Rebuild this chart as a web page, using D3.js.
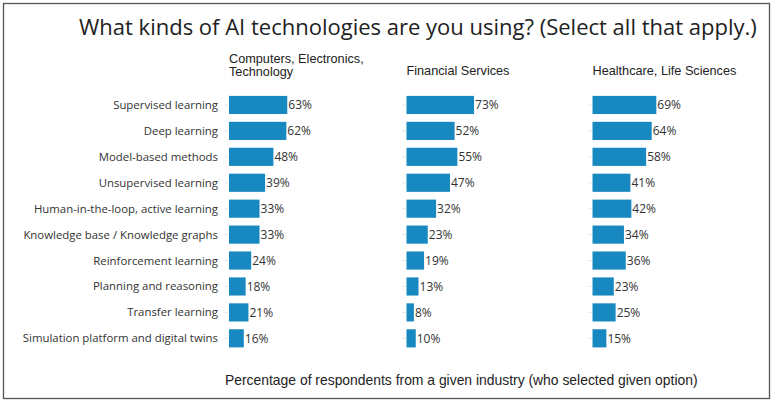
<!DOCTYPE html>
<html>
<head>
<meta charset="utf-8">
<script src="https://cdn.jsdelivr.net/npm/d3@7"></script>
<style>
  html, body { margin: 0; padding: 0; background: #fff; }
  svg { display: block; }
</style>
</head>
<body>
<svg id="chart" width="773" height="403"></svg>
<script>
// Survey answers: share of respondents per industry using each AI technology
const technologies = [
  "Supervised learning",
  "Deep learning",
  "Model-based methods",
  "Unsupervised learning",
  "Human-in-the-loop, active learning",
  "Knowledge base / Knowledge graphs",
  "Reinforcement learning",
  "Planning and reasoning",
  "Transfer learning",
  "Simulation platform and digital twins"
];
const industries = [
  ["Computers, Electronics,", "Technology"],
  ["Financial Services"],
  ["Healthcare, Life Sciences"]
];
const computersValues  = [63, 62, 48, 39, 33, 33, 24, 18, 21, 16];
const financialValues  = [73, 52, 55, 47, 32, 23, 19, 13, 8, 10];
const healthcareValues = [69, 64, 58, 41, 42, 34, 36, 23, 25, 15];
const seriesValues = [computersValues, financialValues, healthcareValues];

const titleText = "What kinds of AI technologies are you using? (Select all that apply.)";
const footerText = "Percentage of respondents from a given industry (who selected given option)";

const svg = d3.select("#chart");
const barColor = "#1889c0";
const panelLeft = [229, 406.5, 592.5];

// frame
svg.append("rect")
  .attr("x", 3.5).attr("y", 3.5)
  .attr("width", 766).attr("height", 395)
  .attr("fill", "none").attr("stroke", "#555").attr("stroke-width", 1.3);

svg.append("text")
  .attr("x", 79).attr("y", 35)
  .attr("font-family", "'Open Sans', sans-serif")
  .attr("font-size", 22)
  .attr("fill", "#222")
  .text(titleText);

const x = d3.scaleLinear().domain([0, 100]).range([0, 92.5]);
const y = d3.scaleBand().domain(technologies)
  .range([92, 351.3]).paddingInner(0.3).paddingOuter(0.15);

// category labels on the left
svg.append("g")
  .selectAll("text")
  .data(technologies)
  .join("text")
  .attr("x", 218)
  .attr("y", d => y(d) + y.bandwidth() / 2)
  .attr("dy", "0.35em")
  .attr("text-anchor", "end")
  .attr("font-family", "'Open Sans', sans-serif")
  .attr("font-size", 11.4)
  .attr("fill", "#333")
  .text(d => d);

industries.forEach((header, i) => {
  const g = svg.append("g").attr("transform", `translate(${panelLeft[i]},0)`);
  const rows = technologies.map((t, j) => ({ tech: t, value: seriesValues[i][j] }));

  // panel header
  const headerText = g.append("text")
    .attr("font-family", "'Liberation Sans', Arial, sans-serif")
    .attr("font-size", 12.7)
    .attr("fill", "#222");
  const firstY = header.length > 1 ? 62.5 : 75;
  header.forEach((line, k) => {
    headerText.append("tspan").attr("x", 0).attr("y", firstY + k * 13.5).text(line);
  });

  // faint ticks at the category axis
  g.append("g")
    .selectAll("line")
    .data(rows)
    .join("line")
    .attr("x1", -4).attr("x2", -1)
    .attr("y1", d => y(d.tech) + y.bandwidth() / 2)
    .attr("y2", d => y(d.tech) + y.bandwidth() / 2)
    .attr("stroke", "#e2e2e2");

  g.append("g")
    .selectAll("rect")
    .data(rows)
    .join("rect")
    .attr("x", 0)
    .attr("y", d => y(d.tech))
    .attr("width", d => x(d.value))
    .attr("height", y.bandwidth())
    .attr("fill", barColor);

  g.append("g")
    .selectAll("text")
    .data(rows)
    .join("text")
    .attr("x", d => x(d.value) + 1)
    .attr("y", d => y(d.tech) + y.bandwidth() / 2)
    .attr("dy", "0.35em")
    .attr("font-family", "'Open Sans', sans-serif")
    .attr("font-size", 12)
    .attr("fill", "#333")
    .text(d => d.value + "%");
});

svg.append("text")
  .attr("x", 225).attr("y", 385)
  .attr("font-family", "'Liberation Sans', Arial, sans-serif")
  .attr("font-size", 13.9)
  .attr("fill", "#222")
  .text(footerText);
</script>
</body>
</html>
